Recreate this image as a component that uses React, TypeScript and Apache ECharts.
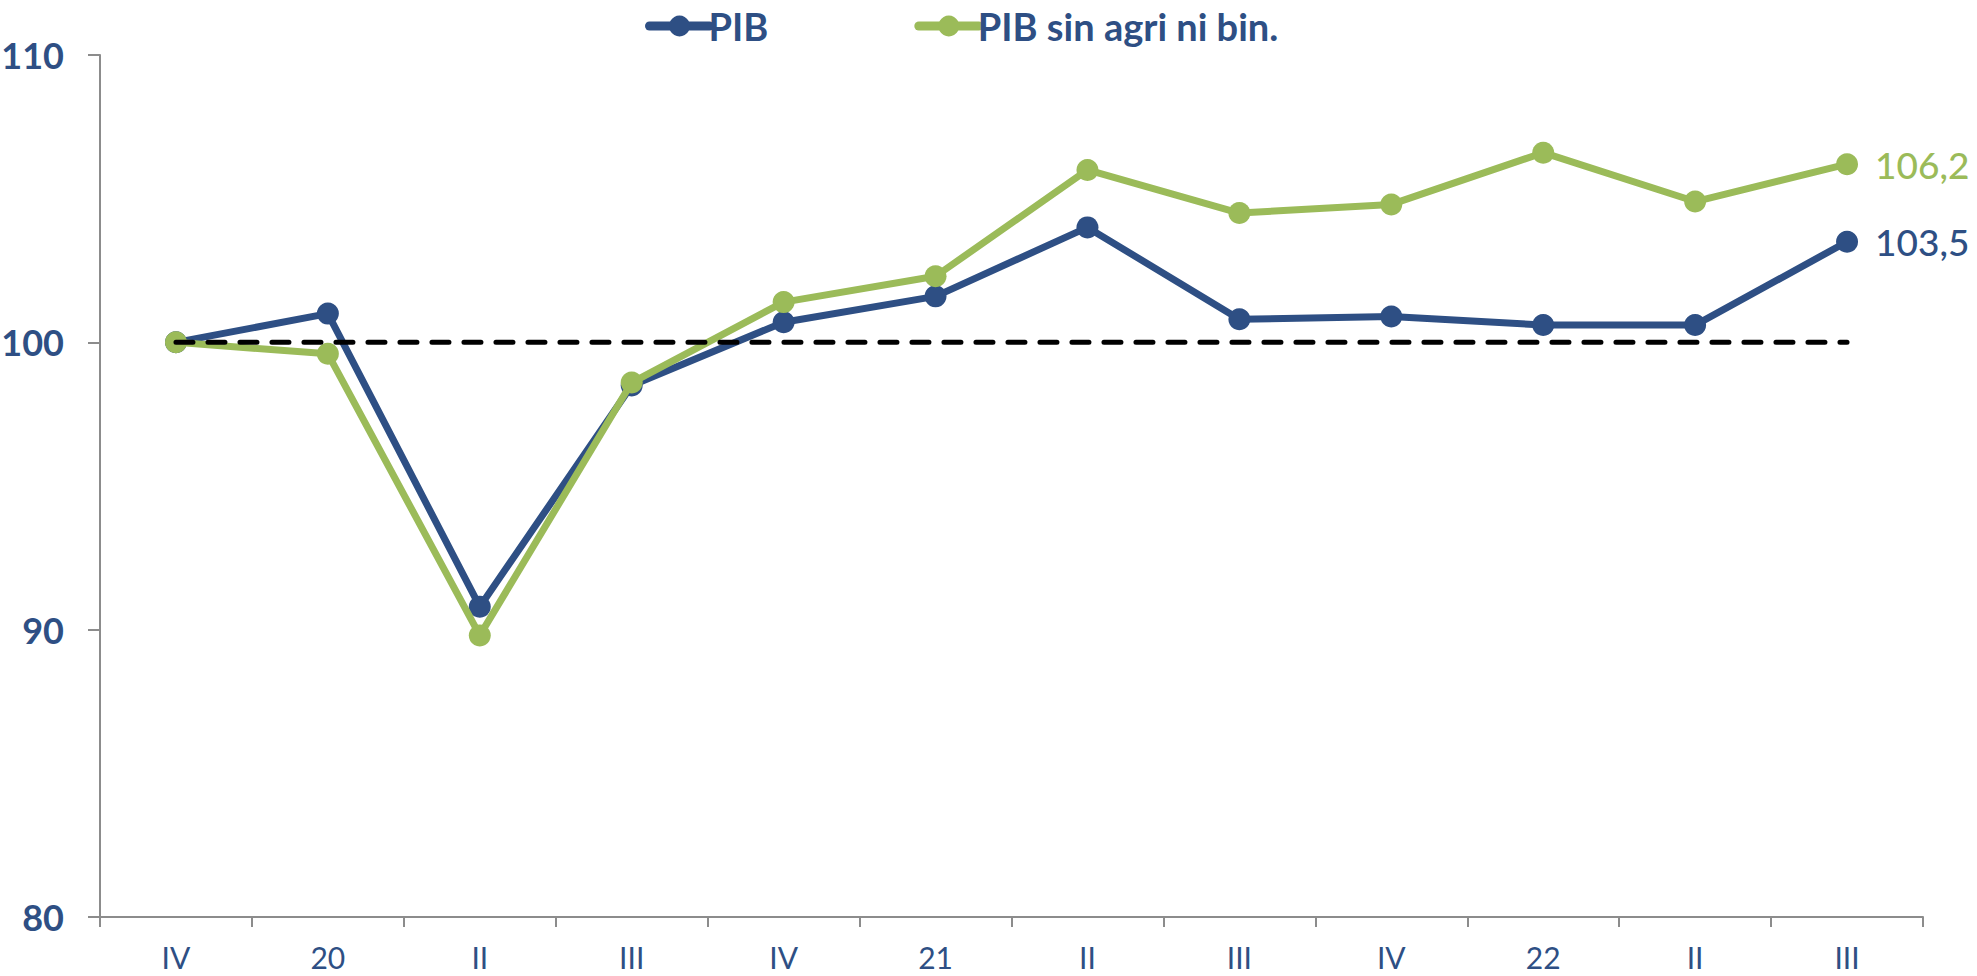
import React, { useEffect, useRef } from "react";
import * as echarts from "echarts";

const categories = ["IV", "20", "II", "III", "IV", "21", "II", "III", "IV", "22", "II", "III"];
const pib = [100, 101.0, 90.8, 98.5, 100.7, 101.6, 104.0, 100.8, 100.9, 100.6, 100.6, 103.5];
const pibSinAgri = [100, 99.6, 89.8, 98.6, 101.4, 102.3, 106.0, 104.5, 104.8, 106.6, 104.9, 106.2];
const base100 = [100, 100, 100, 100, 100, 100, 100, 100, 100, 100, 100, 100];
const yTicks = { min: 80, max: 110, interval: 10 };

const BLUE = "#2E4F84";
const GREEN = "#9BBB59";
const AXIS = "#8C8C8C";
const FONT = "Lato";

const fmt = (v: number) => v.toFixed(1).replace(".", ",");

export default function App() {
  const ref = useRef<HTMLDivElement>(null);
  useEffect(() => {
    if (!ref.current) return;
    const chart = echarts.init(ref.current, undefined, { renderer: "svg" });
    chart.setOption({
      animation: false,
      backgroundColor: "#ffffff",
      textStyle: { fontFamily: FONT },
      grid: { left: 100, right: 54, top: 55, bottom: 59, containLabel: false, outerBoundsMode: "none" },
      legend: {
        data: ["PIB", "PIB sin agri ni bin."],
        left: 640,
        top: 2,
        itemWidth: 60,
        itemHeight: 26,
        itemGap: 146,
        textStyle: { color: BLUE, fontSize: 38, fontWeight: "bold", fontFamily: FONT, padding: [0, 0, 0, -6] },
        lineStyle: { width: 9, cap: "round" },
      },
      xAxis: {
        type: "category",
        data: categories,
        boundaryGap: true,
        axisLine: { show: true, lineStyle: { color: AXIS, width: 2 } },
        axisTick: { show: true, length: 10, alignWithLabel: false, lineStyle: { color: AXIS, width: 2 } },
        axisLabel: { color: BLUE, fontSize: 30, fontFamily: FONT, margin: 25, interval: 0 },
        splitLine: { show: false },
      },
      yAxis: {
        type: "value",
        min: yTicks.min,
        max: yTicks.max,
        interval: yTicks.interval,
        axisLine: { show: true, lineStyle: { color: AXIS, width: 2 } },
        axisTick: { show: true, length: 12, lineStyle: { color: AXIS, width: 2 } },
        axisLabel: { color: BLUE, fontSize: 36, fontWeight: "bold", fontFamily: FONT, margin: 36 },
        splitLine: { show: false },
      },
      series: [
        {
          name: "PIB",
          type: "line",
          data: pib,
          symbol: "circle",
          symbolSize: 22,
          lineStyle: { color: BLUE, width: 7 },
          itemStyle: { color: BLUE },
          z: 2,
          endLabel: {
            show: true,
            formatter: (p: any) => fmt(p.value),
            color: BLUE,
            fontSize: 37,
            fontWeight: 500,
            fontFamily: FONT,
            distance: 28,
          },
        },
        {
          name: "PIB sin agri ni bin.",
          type: "line",
          data: pibSinAgri,
          symbol: "circle",
          symbolSize: 22,
          lineStyle: { color: GREEN, width: 7 },
          itemStyle: { color: GREEN },
          z: 3,
          endLabel: {
            show: true,
            formatter: (p: any) => fmt(p.value),
            color: GREEN,
            fontSize: 37,
            fontWeight: 500,
            fontFamily: FONT,
            distance: 28,
          },
        },
        {
          name: "Base 100",
          type: "line",
          data: base100,
          symbol: "none",
          lineStyle: { color: "#000000", width: 5, type: [17, 15], cap: "round" },
          z: 4,
          silent: true,
        },
      ],
    });
    return () => chart.dispose();
  }, []);
  return (
    <div
      ref={ref}
      style={{ position: "fixed", left: 0, top: 0, width: 1977, height: 976, background: "#fff" }}
    />
  );
}
